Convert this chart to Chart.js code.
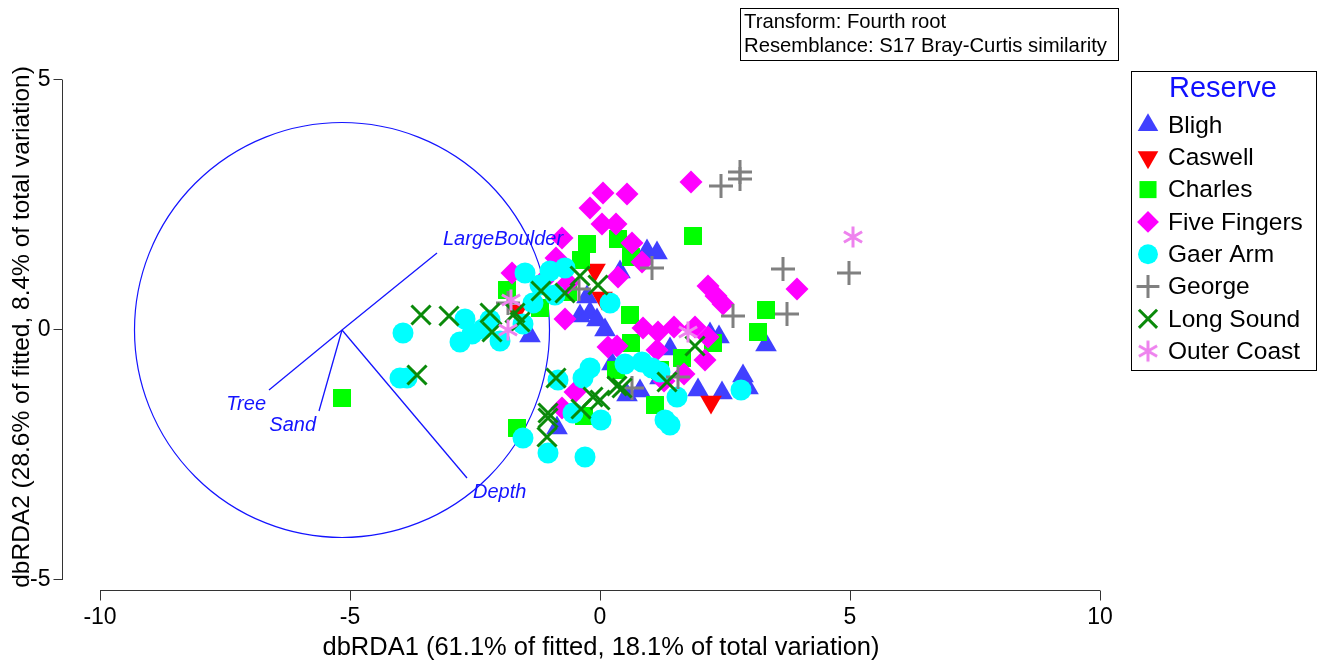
<!DOCTYPE html>
<html>
<head>
<meta charset="utf-8">
<script src="https://cdn.jsdelivr.net/npm/chart.js@4.4.1/dist/chart.umd.min.js"></script>
<style>
html, body { margin: 0; padding: 0; background: #fff; }
</style>
</head>
<body>
<canvas id="rdaPlot" width="1327" height="664"></canvas>
<script>
// dbRDA ordination, sites coloured by reserve
const reserves = ['Bligh', 'Caswell', 'Charles', 'Five Fingers', 'Gaer Arm', 'George', 'Long Sound', 'Outer Coast'];

const bligh = [[0.94,1.58],[1.14,1.54],[0.4,1.16],[-0.4,0.28],[-0.2,0.34],[0.1,0.0],[-1.4,-0.12],[0.24,-0.68],
  [0.54,-1.3],[0.8,-1.22],[-0.86,-1.96],[1.4,-0.38],[2.2,-0.08],[2.38,-0.14],[1.96,-1.2],[2.44,-1.26],
  [2.86,-0.92],[2.96,-1.16],[3.32,-0.3],[-0.26,0.66],[-0.06,0.2],[1.2,-0.96]];
const caswell = [[2.22,-1.44],[-0.1,1.2],[0.04,0.64],[-1.66,0.38]];
const charles = [[-5.16,-1.36],[1.86,1.88],[-0.26,1.72],[0.36,1.82],[-0.38,1.4],[0.62,1.46],[-1.86,0.8],
  [-1.2,0.44],[-0.64,0.76],[0.62,-0.26],[-1.66,-1.96],[-0.32,-1.72],[0.32,-0.8],[1.1,-1.5],[1.64,-0.56],
  [2.26,-0.26],[3.32,0.4],[3.16,-0.04],[1.2,-0.8],[0.6,0.3]];
const fiveFingers = [[0.06,2.74],[0.54,2.72],[-0.2,2.44],[0.04,2.12],[0.32,2.12],[0.64,1.74],[0.84,1.36],
  [0.36,1.06],[1.82,2.96],[2.16,0.88],[2.32,0.68],[2.46,0.52],[3.94,0.82],[-0.76,1.84],[-0.88,1.44],
  [-1.76,1.14],[-0.7,0.22],[-1.14,0.98],[0.86,0.04],[1.16,-0.04],[1.48,0.06],[1.9,0.06],[2.16,-0.14],
  [0.16,-0.34],[0.34,-0.32],[1.14,-0.4],[2.1,-0.6],[1.68,-0.88],[1.28,-1.02],[-0.5,-1.24],[-0.76,-1.56],
  [-0.64,0.94]];
const gaerArm = [[-3.94,-0.06],[-4.0,-0.96],[-3.86,-0.96],[-2.7,0.22],[-2.8,-0.24],[-2.56,-0.08],[-2.34,0.02],
  [-2.0,-0.22],[-1.54,0.12],[-1.5,1.14],[-1.0,1.18],[-0.7,1.24],[-1.34,0.54],[-0.9,0.7],[0.2,0.54],
  [-1.54,-2.16],[-1.04,-2.46],[-0.3,-2.54],[-0.54,-1.66],[0.02,-1.8],[-0.84,-1.0],[-0.34,-0.96],[-0.2,-0.76],
  [0.5,-0.68],[0.84,-0.64],[1.04,-0.76],[1.2,-0.84],[1.54,-1.34],[1.3,-1.8],[1.4,-1.9],[2.82,-1.2],
  [-2.2,0.2],[-1.2,0.9]];
const george = [[2.42,2.88],[2.8,3.16],[2.8,3.02],[3.66,1.22],[4.98,1.14],[3.74,0.32],[2.66,0.28],[1.04,1.24],
  [-0.42,0.82],[0.64,-1.16],[1.56,-0.94],[-1.84,0.54]];
const longSound = [[-3.58,0.3],[-3.02,0.28],[-3.66,-0.9],[-2.2,0.34],[-2.16,-0.04],[-1.7,0.34],[-1.6,0.16],
  [-1.18,0.78],[-0.7,0.74],[-0.4,1.08],[-0.04,0.9],[-0.88,-0.96],[-1.04,-1.66],[-1.04,-1.76],[-1.06,-2.14],
  [-0.38,-1.58],[-0.14,-1.34],[0.0,-1.4],[0.34,-1.12],[0.44,-1.16],[1.34,-1.04],[1.9,-0.32]];
const outerCoast = [[5.06,1.86],[1.76,-0.04],[-1.78,0.6],[-1.84,0.0]];

const reservePoints = [bligh, caswell, charles, fiveFingers, gaerArm, george, longSound, outerCoast];

// environmental vectors (correlation circle centred on the vector origin)
const vectorNames = ['LargeBoulder', 'Tree', 'Sand', 'Depth'];
const vectorOrigin = [-5.16, 0.0];
const vectorEnds = [[-3.26, 1.54], [-6.62, -1.2], [-5.62, -1.62], [-2.66, -2.96]];
const circleRadius = 4.15;

const xTicks = [-10, -5, 0, 5, 10];
const yTicks = [-5, 0, 5];
const xTitle = 'dbRDA1 (61.1% of fitted, 18.1% of total variation)';
const yTitle = 'dbRDA2 (28.6% of fitted, 8.4% of total variation)';
const infoLines = ['Transform: Fourth root', 'Resemblance: S17 Bray-Curtis similarity'];
const legendTitle = 'Reserve';

const FONT = '"Liberation Sans", Arial, Helvetica, sans-serif';
const vecColor = '#1414ff';

function asterisk(color, r, lw) {
  const c = document.createElement('canvas');
  const s = Math.ceil(2 * r + lw + 2);
  c.width = s; c.height = s;
  const g = c.getContext('2d');
  g.strokeStyle = color; g.lineWidth = lw;
  g.beginPath();
  [90, 30, -30].forEach(a => {
    const dx = Math.cos(a * Math.PI / 180) * r, dy = Math.sin(a * Math.PI / 180) * r;
    g.moveTo(s / 2 - dx, s / 2 - dy);
    g.lineTo(s / 2 + dx, s / 2 + dy);
  });
  g.stroke();
  return c;
}

const markers = [
  { style: 'triangle', rotation: 0, color: '#4040ff', radius: 12.5, fill: true },
  { style: 'triangle', rotation: 180, color: '#ff0000', radius: 12.5, fill: true },
  { style: 'rect', rotation: 0, color: '#00ff00', radius: 12.7, fill: true },
  { style: 'rectRot', rotation: 0, color: '#ff00ff', radius: 11.5, fill: true },
  { style: 'circle', rotation: 0, color: '#00ffff', radius: 10.5, fill: true },
  { style: 'cross', rotation: 0, color: '#808080', radius: 12, fill: false },
  { style: 'crossRot', rotation: 0, color: '#0a8a0a', radius: 13.5, fill: false },
  { style: asterisk('#ee82ee', 10.5, 3), rotation: 0, color: '#ee82ee', radius: 10.5, fill: false },
];

const datasets = reserves.map((name, i) => ({
  label: name,
  data: reservePoints[i].map(p => ({ x: p[0], y: p[1] })),
  pointStyle: markers[i].style,
  rotation: markers[i].rotation,
  pointRadius: markers[i].radius,
  backgroundColor: markers[i].fill ? markers[i].color : 'rgba(0,0,0,0)',
  borderColor: markers[i].color,
  borderWidth: markers[i].fill ? 0 : 3,
  order: reserves.length - i,
  clip: false,
}));

vectorNames.forEach((name, i) => {
  datasets.push({
    label: name,
    data: [{ x: vectorOrigin[0], y: vectorOrigin[1] }, { x: vectorEnds[i][0], y: vectorEnds[i][1] }],
    showLine: true,
    pointRadius: 0,
    borderColor: vecColor,
    borderWidth: 1.3,
    order: 100,
  });
});

const decor = {
  id: 'decor',
  beforeDatasetsDraw(chart) {
    const { ctx, scales: { x, y } } = chart;
    const cx = x.getPixelForValue(vectorOrigin[0]);
    const cy = y.getPixelForValue(vectorOrigin[1]);
    const rx = x.getPixelForValue(vectorOrigin[0] + circleRadius) - cx;
    const ry = cy - y.getPixelForValue(vectorOrigin[1] + circleRadius);
    ctx.save();
    ctx.strokeStyle = vecColor;
    ctx.lineWidth = 1.2;
    ctx.beginPath();
    ctx.ellipse(cx, cy, rx, ry, 0, 0, Math.PI * 2);
    ctx.stroke();
    ctx.restore();
  },
  afterDraw(chart) {
    const { ctx, scales: { x, y } } = chart;
    ctx.save();

    // vector labels
    const ox = x.getPixelForValue(vectorOrigin[0]);
    const oy = y.getPixelForValue(vectorOrigin[1]);
    ctx.fillStyle = vecColor;
    ctx.font = 'italic 20px ' + FONT;
    ctx.textBaseline = 'middle';
    vectorNames.forEach((name, i) => {
      const ex = x.getPixelForValue(vectorEnds[i][0]);
      const ey = y.getPixelForValue(vectorEnds[i][1]);
      const right = ex > ox;
      ctx.textAlign = right ? 'left' : 'right';
      ctx.fillText(name, ex + (right ? 6 : -3), ey + (ey < oy ? -14 : 14));
    });

    // detached axes
    ctx.strokeStyle = '#333';
    ctx.lineWidth = 1;
    ctx.fillStyle = '#000';
    const axX = x.left - 37.5;
    ctx.beginPath();
    ctx.moveTo(axX, y.getPixelForValue(yTicks[0]));
    ctx.lineTo(axX, y.getPixelForValue(yTicks[yTicks.length - 1]));
    yTicks.forEach(v => {
      const py = Math.round(y.getPixelForValue(v)) - 0.5;
      ctx.moveTo(axX - 9, py);
      ctx.lineTo(axX, py);
    });
    const axY = y.bottom + 10.5;
    ctx.moveTo(x.getPixelForValue(xTicks[0]), axY);
    ctx.lineTo(x.getPixelForValue(xTicks[xTicks.length - 1]), axY);
    xTicks.forEach(v => {
      const px = Math.round(x.getPixelForValue(v)) + 0.5;
      ctx.moveTo(px, axY);
      ctx.lineTo(px, axY + 10);
    });
    ctx.stroke();

    ctx.font = '23px ' + FONT;
    ctx.textAlign = 'right';
    ctx.textBaseline = 'middle';
    yTicks.forEach(v => ctx.fillText(String(v), axX - 12, y.getPixelForValue(v)));
    ctx.textAlign = 'center';
    xTicks.forEach(v => ctx.fillText(String(v), x.getPixelForValue(v), axY + 27));

    ctx.font = '25.5px ' + FONT;
    ctx.fillText(xTitle, (x.left + x.right) / 2 + 1, 648);
    ctx.font = '24.5px ' + FONT;
    ctx.save();
    ctx.translate(22, (y.top + y.bottom) / 2 - 3);
    ctx.rotate(-Math.PI / 2);
    ctx.fillText(yTitle, 0, 0);
    ctx.restore();

    // transform / resemblance box
    ctx.strokeStyle = '#000';
    ctx.strokeRect(740.5, 8.5, 378, 52);
    ctx.font = '20.3px ' + FONT;
    ctx.textAlign = 'left';
    ctx.fillText(infoLines[0], 744, 22);
    ctx.fillText(infoLines[1], 744, 46);

    // legend
    ctx.strokeRect(1131.5, 71.5, 185, 299);
    ctx.fillStyle = '#1010ff';
    ctx.font = '29px ' + FONT;
    ctx.textAlign = 'center';
    ctx.fillText(legendTitle, 1223, 89);
    const drawPoint = Chart.helpers && Chart.helpers.drawPoint;
    ctx.font = '24.5px ' + FONT;
    ctx.textAlign = 'left';
    reserves.forEach((name, i) => {
      const my = 125 + i * 32.3;
      const m = markers[i];
      ctx.fillStyle = m.color;
      ctx.strokeStyle = m.color;
      ctx.lineWidth = m.fill ? 0 : 3;
      if (drawPoint) {
        drawPoint(ctx, { pointStyle: m.style, rotation: m.rotation, radius: m.radius * 0.95, borderWidth: m.fill ? 0 : 3 }, 1148, my);
      } else {
        ctx.beginPath(); ctx.arc(1148, my, 9, 0, Math.PI * 2); ctx.fill();
      }
      ctx.fillStyle = '#000';
      ctx.fillText(name, 1168, my + 1);
    });
    ctx.restore();
  }
};

new Chart(document.getElementById('rdaPlot').getContext('2d'), {
  type: 'scatter',
  data: { datasets },
  options: {
    responsive: false,
    animation: false,
    layout: { padding: { left: 100, right: 227, top: 80, bottom: 84 } },
    scales: {
      x: { type: 'linear', min: -10, max: 10, display: false },
      y: { type: 'linear', min: -5, max: 5, display: false },
    },
    plugins: { legend: { display: false }, tooltip: { enabled: false } },
  },
  plugins: [decor],
});
</script>
</body>
</html>
